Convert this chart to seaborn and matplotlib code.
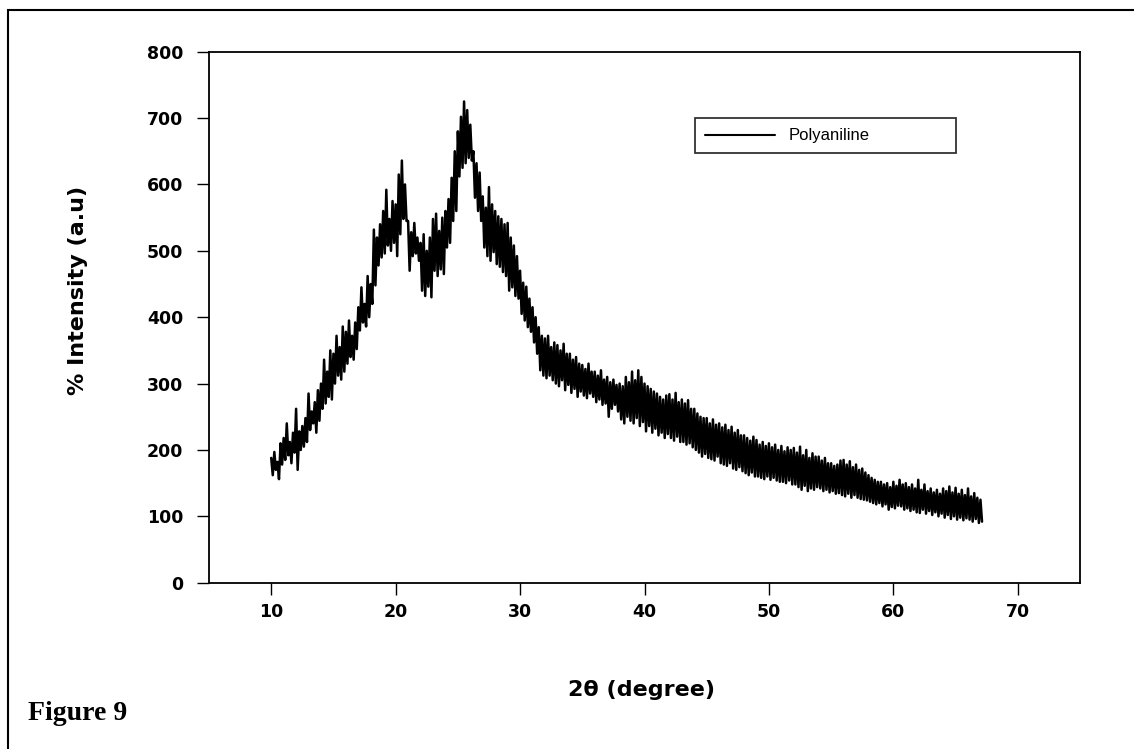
import matplotlib
matplotlib.use('Agg')
import matplotlib.pyplot as plt
import matplotlib.patches as mpatches
import numpy as np
import pandas as pd
import seaborn as sns

# XRD pattern of polyaniline.
# Each degree holds four steps of 0.25 deg; at every step the upper reading
# comes first and the lower reading follows half a step later.
X_START = 10.0
STEP = 0.25

upper = [
    188, 197, 182, 210,  218, 240, 212, 226,  262, 228, 236, 248,  285, 258, 272, 290,   # 10-13
    300, 336, 318, 350,  345, 372, 355, 386,  378, 395, 372, 392,  415, 445, 420, 462,   # 14-17
    450, 532, 520, 540,  560, 592, 548, 575,  570, 615, 636, 600,  545, 528, 542, 520,   # 18-21
    512, 525, 500, 520,  548, 556, 530, 550,  560, 578, 610, 650,  680, 702, 725, 712,   # 22-25
    690, 650, 632, 618,  582, 565, 596, 570,  560, 552, 548, 540,  542, 520, 508, 492,   # 26-29
    470, 452, 446, 428,  415, 400, 385, 372,  368, 372, 355, 362,  358, 350, 360, 345,   # 30-33
    345, 336, 340, 330,  328, 322, 330, 318,  318, 312, 320, 306,  310, 302, 306, 298,   # 34-37
    300, 296, 310, 302,  318, 305, 320, 310,  300, 296, 292, 288,  285, 280, 276, 282,   # 38-41
    284, 276, 286, 272,  276, 270, 275, 262,  262, 255, 250, 248,  248, 240, 246, 238,   # 42-45
    240, 234, 238, 230,  235, 226, 230, 222,  222, 218, 214, 220,  215, 208, 212, 206,   # 46-49
    210, 204, 208, 200,  206, 198, 204, 200,  203, 196, 205, 192,  200, 188, 195, 190,   # 50-53
    190, 184, 188, 180,  180, 176, 178, 184,  185, 178, 183, 174,  178, 170, 172, 166,   # 54-57
    162, 158, 155, 152,  152, 148, 150, 144,  152, 146, 155, 148,  150, 144, 148, 142,   # 58-61
    155, 140, 148, 138,  142, 136, 140, 134,  142, 138, 145, 136,  143, 134, 140, 132,   # 62-65
    142, 130, 135, 128,  125,                                                            # 66-67
]

lower = [
    162, 170, 156, 178,  185, 192, 180, 196,  170, 200, 205, 212,  230, 240, 226, 244,   # 10-13
    262, 270, 280, 276,  300, 312, 306, 318,  330, 340, 336, 352,  380, 392, 386, 400,   # 14-17
    420, 448, 478, 490,  496, 508, 500, 512,  492, 525, 548, 545,  470, 492, 496, 485,   # 18-21
    440, 432, 446, 430,  470, 462, 472, 465,  505, 512, 545, 560,  612, 625, 632, 640,   # 22-25
    636, 580, 560, 545,  505, 492, 485, 498,  480, 476, 468, 462,  440, 445, 432, 428,   # 26-29
    405, 395, 385, 378,  362, 345, 320, 312,  308, 312, 305, 300,  296, 305, 290, 298,   # 30-33
    286, 292, 280, 288,  282, 278, 285, 280,  272, 276, 268, 270,  250, 262, 268, 258,   # 34-37
    246, 240, 250, 244,  240, 248, 236, 242,  228, 236, 226, 232,  222, 226, 218, 224,   # 38-41
    218, 214, 220, 212,  212, 208, 210, 204,  200, 196, 190, 194,  188, 186, 184, 190,   # 42-45
    180, 178, 176, 180,  172, 170, 174, 168,  165, 162, 166, 160,  160, 158, 156, 160,   # 46-49
    155, 158, 154, 152,  152, 150, 154, 148,  148, 144, 140, 146,  138, 142, 140, 144,   # 50-53
    142, 138, 140, 136,  138, 134, 135, 132,  130, 134, 128, 132,  128, 126, 125, 124,   # 54-57
    122, 120, 118, 120,  115, 118, 110, 114,  112, 116, 115, 110,  112, 108, 110, 106,   # 58-61
    105, 110, 104, 108,  102, 106, 100, 104,   98, 102,  96, 100,   95,  98,  94,  97,   # 62-65
     95,  92,  96,  90,   92,                                                            # 66-67
]

x_ticks = [10, 20, 30, 40, 50, 60, 70]
y_ticks = [0, 100, 200, 300, 400, 500, 600, 700, 800]

# interleave upper/lower readings into one trace
up_x = X_START + STEP * np.arange(len(upper))
lo_x = up_x + STEP / 2
df = pd.DataFrame({
    'two_theta': np.column_stack([up_x, lo_x]).ravel(),
    'intensity': np.column_stack([upper, lower]).ravel(),
})

sns.set_style('white')
plt.rcParams['font.family'] = ['DejaVu Sans']
plt.rcParams['text.color'] = 'black'
plt.rcParams['axes.labelcolor'] = 'black'
plt.rcParams['xtick.color'] = 'black'
plt.rcParams['ytick.color'] = 'black'

fig = plt.figure(figsize=(11.34, 7.49), dpi=100)
ax = fig.add_axes([209 / 1134, 1 - 582.7 / 749, (1080 - 209) / 1134, (582.7 - 51.7) / 749])

sns.lineplot(data=df, x='two_theta', y='intensity', ax=ax, color='black', lw=1.8,
             estimator=None, sort=False, label='Polyaniline')

ax.set_xlim(5, 75)
ax.set_ylim(0, 800)
ax.set_xticks(x_ticks)
ax.set_yticks(y_ticks)
ax.tick_params(axis='both', direction='out', length=8.5, width=1.0, color='black',
               labelcolor='black', labelsize=12.5, left=True, bottom=True)
ax.tick_params(axis='y', pad=10)
ax.tick_params(axis='x', pad=6)
for lab in ax.get_xticklabels() + ax.get_yticklabels():
    lab.set_fontweight('heavy')

for sp in ax.spines.values():
    sp.set_color('black')
    sp.set_linewidth(1.3)

ax.set_xlabel('2θ (degree)', fontsize=16, fontweight='bold', color='black')
ax.set_ylabel('% Intensity (a.u)', fontsize=16, fontweight='bold', color='black')
ax.xaxis.set_label_coords(0.496, -0.183)
ax.yaxis.set_label_coords(-0.139, 0.551)

leg = ax.legend(loc='center', bbox_to_anchor=(0.558, 0.804, 0.300, 0.075), mode='expand',
                frameon=True, fancybox=False, edgecolor='black', fontsize=12,
                handlelength=4.2, handletextpad=0.8, borderpad=0.6, borderaxespad=0)
leg.get_frame().set_linewidth(1.3)
leg.get_lines()[0].set_linewidth(1.5)
for t in leg.get_texts():
    t.set_fontfamily(['Liberation Sans', 'DejaVu Sans'])
    t.set_color('black')

# outer frame around the whole figure panel
fig.add_artist(mpatches.Rectangle((8 / 1134, -0.05), 1.1, 1 - 10 / 749 + 0.05,
                                  transform=fig.transFigure, fill=False,
                                  edgecolor='black', lw=1.5, clip_on=False))

fig.text(28 / 1134, 1 - 720 / 749, 'Figure 9', fontsize=20, fontweight='bold',
         color='black', family=['Liberation Serif', 'DejaVu Serif'], ha='left', va='baseline')

fig.savefig('out.png', dpi=100)
